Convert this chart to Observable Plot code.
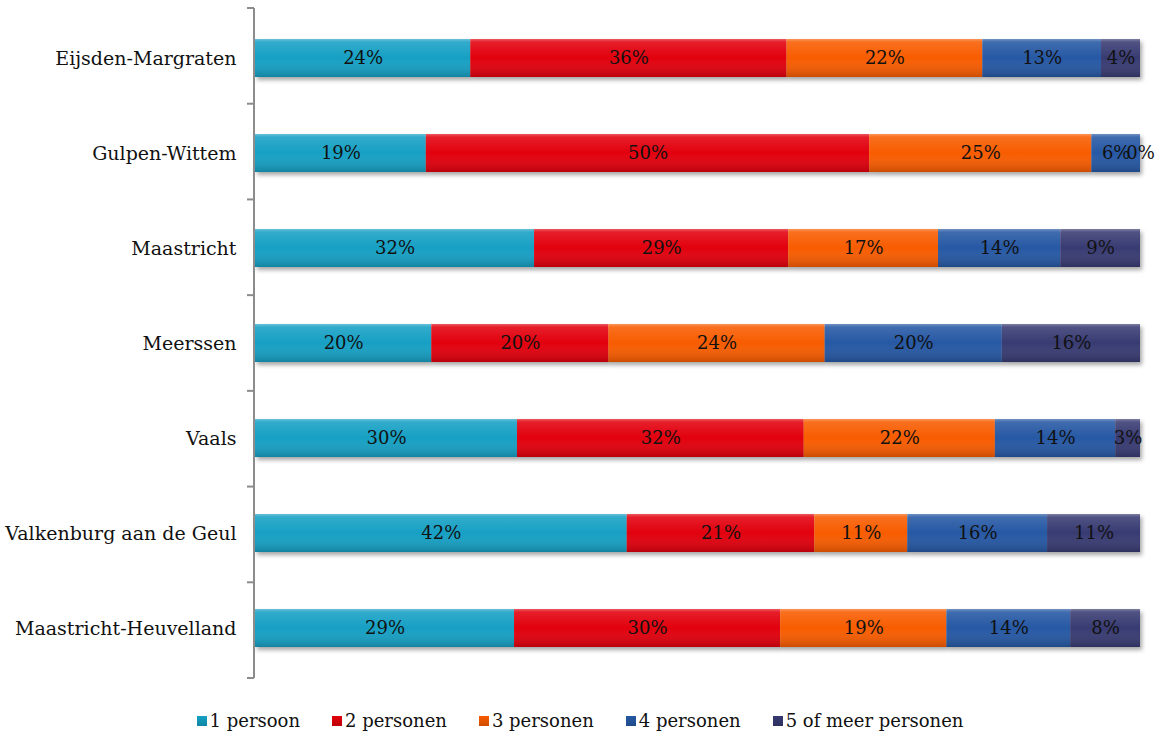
<!DOCTYPE html>
<html>
<head>
<meta charset="utf-8">
<script src="https://cdn.jsdelivr.net/npm/d3@7"></script>
<script src="https://cdn.jsdelivr.net/npm/@observablehq/plot@0.6"></script>
<style>
  body { margin: 0; background: #fff; font-family: "DejaVu Serif", serif; }
  #legend { display: flex; justify-content: center; gap: 32px; padding-top: 20px; font-size: 18px; color: #111; }
  #legend .item { display: flex; align-items: center; gap: 3px; }
  #legend .sw { width: 10px; height: 10px; display: inline-block; }
</style>
</head>
<body>
<div id="chart"></div>
<div id="legend"></div>
<script>
const cities = ["Eijsden-Margraten", "Gulpen-Wittem", "Maastricht", "Meerssen", "Vaals", "Valkenburg aan de Geul", "Maastricht-Heuvelland"];
const series = ["1 persoon", "2 personen", "3 personen", "4 personen", "5 of meer personen"];
const p1 = [24.3, 19.3, 31.5, 19.9, 29.6, 42.0, 29.3];
const p2 = [35.7, 50.1, 28.7, 20.0, 32.4, 21.2, 30.1];
const p3 = [22.1, 25.1, 16.9, 24.4, 21.6, 10.5, 18.8];
const p4 = [13.4, 5.5, 13.8, 20.0, 13.6, 15.8, 14.0];
const p5 = [4.4, 0.0, 9.0, 15.6, 2.8, 10.5, 7.9];
const colors = ["#14a0c4", "#e20009", "#f85b00", "#2559a4", "#373a72"];

const seriesValues = [p1, p2, p3, p4, p5];
const data = [];
cities.forEach((c, i) => series.forEach((s, j) => data.push({city: c, cat: s, value: seriesValues[j][i]})));

const defs = () => {
  const d = d3.create("svg:defs");
  const g = d.append("linearGradient").attr("id", "shade").attr("x1", 0).attr("y1", 0).attr("x2", 0).attr("y2", 1);
  [["0%", "white", 0.35], ["8%", "white", 0.12], ["50%", "white", 0], ["100%", "black", 0.18]]
    .forEach(([o, c, a]) => g.append("stop").attr("offset", o).attr("stop-color", c).attr("stop-opacity", a));
  const f = d.append("filter").attr("id", "shadow").attr("x", "-5%").attr("y", "-30%").attr("width", "110%").attr("height", "170%");
  f.append("feDropShadow").attr("dx", 2).attr("dy", 3).attr("stdDeviation", 2).attr("flood-color", "#000").attr("flood-opacity", 0.35);
  return d.node();
};

const axisMark = (index, scales, values, dims) => {
  const x0 = dims.marginLeft - 1;
  const g = d3.create("svg:g").attr("stroke", "#8c8c8c").attr("stroke-width", 2);
  const top = dims.marginTop, bottom = dims.height - dims.marginBottom;
  g.append("line").attr("x1", x0).attr("x2", x0).attr("y1", top).attr("y2", bottom);
  const step = (bottom - top) / cities.length;
  for (let k = 0; k <= cities.length; k++) {
    const yy = top + k * step;
    g.append("line").attr("x1", x0 - 7).attr("x2", x0).attr("y1", yy).attr("y2", yy);
  }
  return g.node();
};

const stackOpts = {x: "value", y: "city", z: "cat", offset: "normalize", order: null};

const plot = Plot.plot({
  width: 1160,
  height: 690,
  marginLeft: 255,
  marginRight: 20,
  marginTop: 8,
  marginBottom: 12,
  style: {fontFamily: "DejaVu Serif, serif", fontSize: "18px", color: "#111"},
  x: {axis: null, domain: [0, 1]},
  y: {domain: cities, paddingInner: 0.6, paddingOuter: 0.3, label: null},
  color: {domain: series, range: colors},
  marks: [
    defs,
    Plot.barX(data, Plot.stackX({...stackOpts, fill: "cat"})),
    Plot.barX(data, Plot.stackX({...stackOpts, fill: "url(#shade)"})),
    Plot.text(data, Plot.stackX({...stackOpts, text: d => Math.round(d.value) + "%", fill: "#111", fontSize: 18})),
    Plot.axisY({tickSize: 0, tickPadding: 19, fontSize: 19, label: null}),
    axisMark
  ]
});
const bars = plot.querySelectorAll('g[aria-label="bar"]');
if (bars.length) bars[0].setAttribute("filter", "url(#shadow)");
document.getElementById("chart").appendChild(plot);

const legend = document.getElementById("legend");
series.forEach((s, j) => {
  const it = document.createElement("div");
  it.className = "item";
  const sw = document.createElement("span");
  sw.className = "sw";
  sw.style.background = `linear-gradient(${colors[j]}, ${d3.color(colors[j]).darker(0.5)})`;
  const t = document.createElement("span");
  t.textContent = s;
  it.appendChild(sw); it.appendChild(t);
  legend.appendChild(it);
});
</script>
</body>
</html>
